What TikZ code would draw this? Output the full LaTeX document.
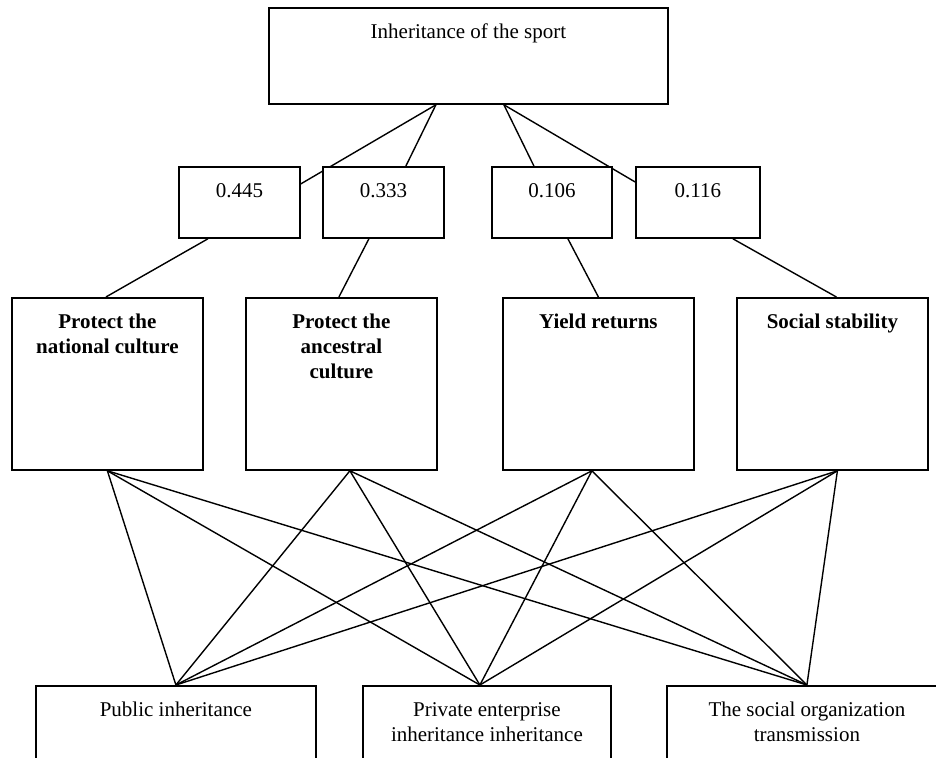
\documentclass[tikz,border=0pt]{standalone}
\usepackage{fontspec}
\setmainfont{Liberation Serif}
\usetikzlibrary{calc,backgrounds}
\newcommand\boxtext[3]{\parbox[t][#2pt][t]{#1pt}{\centering\fontsize{21}{24.6}\selectfont\rule{0pt}{31pt}#3}}
\begin{document}
\begin{tikzpicture}[x=1pt,y=-1pt,
  box/.style={draw, line width=1.8pt, fill=white, inner sep=0pt, anchor=north west},
  link/.style={line width=1.4pt},
]
\useasboundingbox (0,0) rectangle (936,757);
% top
\node[box] (top) at (268,7) {\boxtext{399}{96}{Inheritance of the sport}};
% weights
\node[box] (w1) at (178,166) {\boxtext{121}{71}{0.445}};
\node[box] (w2) at (322,166) {\boxtext{121}{71}{0.333}};
\node[box] (w3) at (491,166) {\boxtext{120}{71}{0.106}};
\node[box] (w4) at (635,166) {\boxtext{124}{71}{0.116}};
% criteria
\node[box] (c1) at (11,297) {\boxtext{191}{172}{\bfseries Protect the\\national culture}};
\node[box] (c2) at (245,297) {\boxtext{191}{172}{\bfseries Protect the\\ancestral\\culture}};
\node[box] (c3) at (502,297) {\boxtext{191}{172}{\bfseries Yield returns}};
\node[box] (c4) at (736,297) {\boxtext{191}{172}{\bfseries Social stability}};
% alternatives
\node[box] (b1) at (35,685) {\boxtext{280}{100}{Public inheritance}};
\node[box] (b2) at (362,685) {\boxtext{248}{100}{Private enterprise\\inheritance inheritance}};
\node[box] (b3) at (666,685) {\boxtext{280}{100}{The social organization\\transmission}};
% connection points
\coordinate (tl) at ($(top.south)+(-32.5,0)$);
\coordinate (tr) at ($(top.south)+(35.5,0)$);
\coordinate (c1o) at ($(c1.south)+(0,0)$);
\coordinate (c2o) at ($(c2.south)+(8.5,0)$);
\coordinate (c3o) at ($(c3.south)+(-6.5,0)$);
\coordinate (c4o) at ($(c4.south)+(5,0)$);
\coordinate (b1i) at ($(b1.north)+(0,0)$);
\coordinate (b2i) at ($(b2.north)+(-7,0)$);
\coordinate (b3i) at ($(b3.north)+(0,0)$);
\begin{scope}[on background layer]
\draw[link] (tl) -- ($(w1.east)+(0,-18.5)$);
\draw[link] (tl) -- ($(w2.north)+(22.5,0)$);
\draw[link] (tr) -- ($(w3.north)+(-18,0)$);
\draw[link] (tr) -- ($(w4.west)+(0,-20.5)$);
\draw[link] ($(w1.south)+(-31.5,0)$) -- ($(c1.north)+(-1.5,0)$);
\draw[link] ($(w2.south)+(-14.5,0)$) -- ($(c2.north)+(-2.5,0)$);
\draw[link] ($(w3.south)+(16,0)$) -- ($(c3.north)+(0,0)$);
\draw[link] ($(w4.south)+(35,0)$) -- ($(c4.north)+(4,0)$);
\foreach \c in {c1o,c2o,c3o,c4o}
  \foreach \b in {b1i,b2i,b3i}
    \draw[link] (\c) -- (\b);
\end{scope}
\end{tikzpicture}
\end{document}
